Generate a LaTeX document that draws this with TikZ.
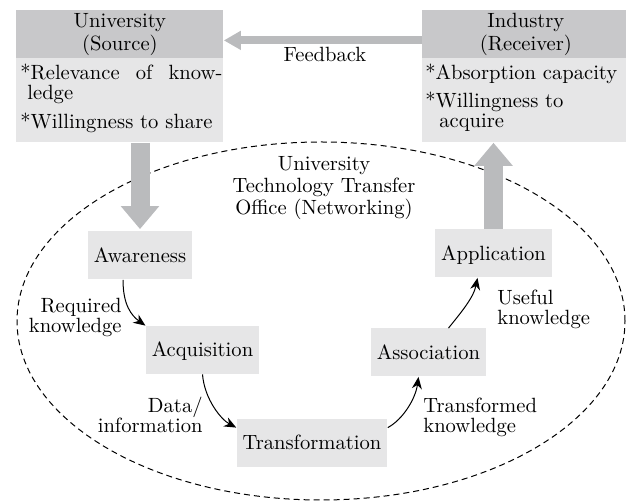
\documentclass[tikz,border=0pt]{standalone}
\usetikzlibrary{arrows.meta,shapes.geometric,calc}
\definecolor{hdrgray}{RGB}{200,200,202}
\definecolor{bodygray}{RGB}{230,230,231}
\definecolor{arrgray}{RGB}{186,187,189}
\newcommand{\mlines}[2]{\begin{tabular}[b]{@{}#1@{}}#2\end{tabular}}
\begin{document}
\begin{tikzpicture}[x=0.5pt,y=-0.5pt,
  txt/.style={font=\fontsize{10.3}{10}\selectfont, inner sep=0pt},
  hdr/.style={fill=hdrgray, draw=none, minimum width=103.5pt, minimum height=24pt, inner sep=0pt, align=center, font=\fontsize{10.3}{11.5}\selectfont, anchor=north west},
  bodybox/.style={fill=bodygray, minimum width=103.5pt, minimum height=42pt, inner sep=0pt, anchor=north west},
  stagebox/.style={fill=bodygray, minimum height=24pt, inner xsep=3pt, inner ysep=0pt, text height=6.9pt, text depth=0pt, font=\fontsize{10.3}{10}\selectfont},
  bigarrow/.style={draw=arrgray, line width=9.5pt, -{Triangle[length=11.5pt,width=18.5pt]}},
  fbarrow/.style={draw=arrgray, line width=4pt, -{Triangle[length=8.5pt,width=9pt]}},
  flow/.style={draw=black, line width=0.5pt, -{Stealth[length=6pt,width=5pt]}}
]
\useasboundingbox (0,0) rectangle (626,501);

% dashed office ellipse
\node[ellipse, draw, dashed, dash pattern=on 3pt off 2pt, line width=0.5pt, minimum width=304pt, minimum height=179pt, inner sep=0pt] (tto) at (321,321) {};

% University box
\node[hdr] (unih) at (16,10) {University\\(Source)};
\node[bodybox] (unib) at (16,58) {};
\node[txt, anchor=base west] (ut1) at (20,80) {\hbox to 101pt{*Relevance\hfill of\hfill know-}};
\node[txt, anchor=base west] (ut2) at (27,100) {ledge};
\node[txt, anchor=base west] (ut3) at (20,129) {*Willingness to share};

% Industry box
\node[hdr] (indh) at (422,10) {Industry\\(Receiver)};
\node[bodybox] (indb) at (422,58) {};
\node[txt, anchor=base west] (it1) at (425,80) {*Absorption capacity};
\node[txt, anchor=base west] (it2) at (425,108) {*Willingness to};
\node[txt, anchor=base west] (it3) at (439,128) {acquire};

% feedback
\draw[fbarrow] ($(indh.west)+(0,6)$) -- ($(unih.east)+(0,6)$);
\node[txt, anchor=base] (fbl) at (325,62) {Feedback};

% office label
\node[txt, font=\fontsize{10.3}{11}\selectfont, anchor=base] (ttol) at (324,215) {\mlines{c}{University\\Technology Transfer\\Office (Networking)}};

% stages
\node[stagebox] (aw) at (140,255.5) {Awareness};
\node[stagebox] (ac) at (202.5,350) {Acquisition};
\node[stagebox] (tr) at (312,443) {Transformation};
\node[stagebox] (as) at (428.5,352.5) {Association};
\node[stagebox] (ap) at (493.5,253.5) {Application};

% big gray arrows
\draw[bigarrow] (unib.south -| aw.north) -- ($(aw.north)+(0,-2)$);
\draw[bigarrow] (ap.north) -- (ap.north |- indb.south);

% flow arrows
\draw[flow] ($(aw.south)+(-17,0)$) .. controls +(0,25) and +(-14,-10) .. (ac.north west);
\draw[flow] (ac.south) .. controls +(2,25) and +(-15,-8) .. ($(tr.north west)+(0,9)$);
\draw[flow] ($(tr.north east)+(0,9)$) .. controls +(15,-8) and +(-3,22) .. ($(as.south)+(-10,0)$);
\draw[flow] ($(as.north)+(20,0)$) .. controls +(12,-15) and +(-4,20) .. ($(ap.south)+(-16,0)$);

% flow labels
\node[txt, anchor=base east] (l1) at (122,333) {\mlines{r}{Required\\knowledge}};
\node[txt, anchor=base east] (l2) at (203,433) {\mlines{r}{Data/\\information}};
\node[txt, anchor=base west] (l3) at (423,433) {\mlines{l}{Transformed\\knowledge}};
\node[txt, anchor=base west] (l4) at (497,325) {\mlines{l}{Useful\\knowledge}};
\end{tikzpicture}
\end{document}
